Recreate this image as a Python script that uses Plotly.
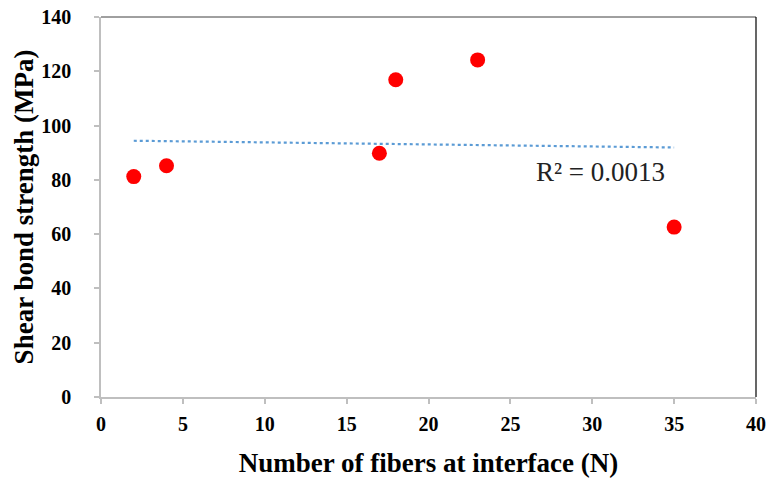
import numpy as np
import plotly.graph_objects as go

fibers = [2, 4, 17, 18, 23, 35]
strength = [81.2, 85.2, 89.8, 116.9, 124.2, 62.6]
x_ticks = [0, 5, 10, 15, 20, 25, 30, 35, 40]
y_ticks = [0, 20, 40, 60, 80, 100, 120, 140]

slope, intercept = np.polyfit(fibers, strength, 1)
trend_x = [min(fibers), max(fibers)]
trend_y = [slope * v + intercept for v in trend_x]

SERIF = "Liberation Serif"

fig = go.Figure()
fig.add_trace(go.Scatter(x=trend_x, y=trend_y, mode="lines",
                         line=dict(color="#5b9bd5", width=2.2, dash="dot"),
                         showlegend=False, hoverinfo="skip"))
fig.add_trace(go.Scatter(x=fibers, y=strength, mode="markers",
                         marker=dict(color="#ff0000", size=15),
                         showlegend=False))

fig.add_annotation(x=30.5, y=83, text="R² = 0.0013", showarrow=False,
                   font=dict(family=SERIF, size=27, color="#222"))

# top and right frame lines
fig.add_shape(type="line", xref="paper", yref="paper", x0=0, x1=1, y0=1, y1=1,
              line=dict(color="#404040", width=1))
fig.add_shape(type="line", xref="paper", yref="paper", x0=1, x1=1, y0=0, y1=1,
              line=dict(color="#000000", width=1.2))

fig.update_layout(
    width=767, height=478,
    margin=dict(l=101, r=11, t=17, b=81),
    paper_bgcolor="white", plot_bgcolor="white",
    font=dict(family=SERIF, color="#000", size=20),
)
fig.update_xaxes(range=[0, 40], tickmode="array", tickvals=x_ticks,
                 ticktext=[f"<b>{v}</b>" for v in x_ticks],
                 showgrid=False, zeroline=False, automargin=False,
                 showline=True, linecolor="#bfbfbf", linewidth=1.5,
                 ticks="outside", tickcolor="#bfbfbf", ticklen=5, tickwidth=1.5,
                 ticklabelstandoff=3,
                 tickfont=dict(family=SERIF, size=20, color="#000"),
                 title=dict(text="<b>Number of fibers at interface (N)</b>",
                            font=dict(family=SERIF, size=27, color="#000"),
                            standoff=19))
fig.update_yaxes(range=[0, 140], tickmode="array", tickvals=y_ticks,
                 ticktext=[f"<b>{v}</b>" for v in y_ticks],
                 showgrid=False, zeroline=False, automargin=False,
                 showline=True, linecolor="#bfbfbf", linewidth=1.5,
                 ticks="outside", tickcolor="#bfbfbf", ticklen=5, tickwidth=1.5,
                 ticklabelstandoff=19,
                 tickfont=dict(family=SERIF, size=20, color="#000"),
                 title=dict(text="<b>Shear bond strength (MPa)</b>",
                            font=dict(family=SERIF, size=27, color="#000"),
                            standoff=0))

fig.write_html("out.html")
